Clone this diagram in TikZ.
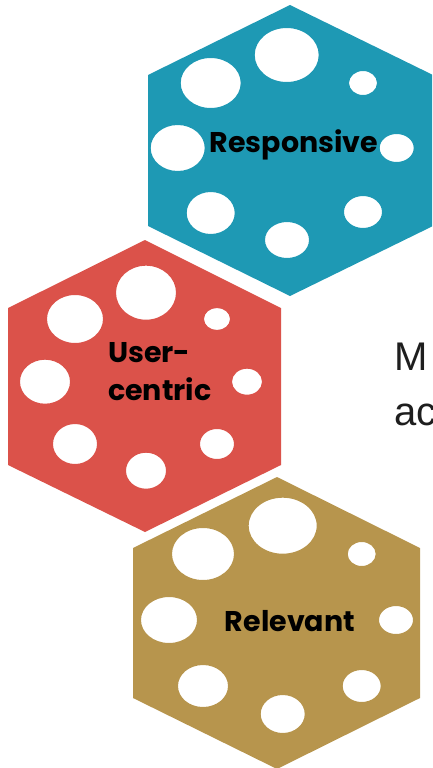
\documentclass[tikz,border=0pt]{standalone}
\usepackage{fontspec}
\setmainfont{Liberation Sans}
\newfontfamily\labelfont{Poppins}
\definecolor{cellblue}{RGB}{30,153,180}
\definecolor{cellred}{RGB}{219,82,74}
\definecolor{cellgold}{RGB}{183,149,77}
\definecolor{bodygray}{RGB}{30,30,30}
\tikzset{
  cell/.style={even odd rule},
  hexlabel/.style={inner sep=0pt, text=black, font=\labelfont\bfseries\fontsize{28.5}{38}\selectfont},
  bodytext/.style={inner sep=0pt, text=bodygray, font=\fontsize{40}{48}\selectfont},
}
\begin{document}
\begin{tikzpicture}[x=1pt,y=-1pt]
\useasboundingbox (0,0) rectangle (432,768);
\clip (0,0) rectangle (432,768);

% upper cell
\fill[cellblue, cell]
  (290,5) -- (433,75) -- (433,226) -- (290,296) -- (148,226) -- (148,75) -- cycle
  (286.7,55)  ellipse [x radius=32, y radius=27]
  (210.7,83)  ellipse [x radius=30, y radius=25]
  (363,83)    ellipse [x radius=14, y radius=12]
  (177.7,148) ellipse [x radius=27, y radius=23]
  (396.7,148) ellipse [x radius=17, y radius=14]
  (210.7,213) ellipse [x radius=24, y radius=21]
  (287,240)   ellipse [x radius=22, y radius=18]
  (363,212)   ellipse [x radius=19, y radius=16];

% middle cell
\fill[cellred, cell]
  (145,240) -- (281,308) -- (281,465) -- (145,532) -- (8,465) -- (8,308) -- cycle
  (146,292.7) ellipse [x radius=30, y radius=27]
  (75,319)    ellipse [x radius=28, y radius=24]
  (217,319)   ellipse [x radius=13, y radius=11]
  (45,381.7)  ellipse [x radius=25, y radius=22]
  (247,381.7) ellipse [x radius=15, y radius=13]
  (75,444)    ellipse [x radius=22, y radius=20]
  (146,470.7) ellipse [x radius=20, y radius=18]
  (217,444)   ellipse [x radius=17, y radius=15];

% lower cell
\fill[cellgold, cell]
  (277,477) -- (420,548) -- (420,698) -- (277,769) -- (133,698) -- (133,548) -- cycle
  (282.7,525.7) ellipse [x radius=34, y radius=28]
  (203,554)     ellipse [x radius=31, y radius=26]
  (361.7,554)   ellipse [x radius=14, y radius=12]
  (169,620)     ellipse [x radius=28, y radius=23]
  (396,620)     ellipse [x radius=17, y radius=14]
  (203,686)     ellipse [x radius=25, y radius=21]
  (282.7,714)   ellipse [x radius=22, y radius=19]
  (361.7,686)   ellipse [x radius=19, y radius=16];

% cell labels
\node[hexlabel] (resp) at (294,145) {Responsive};
\node[hexlabel, align=left, anchor=base west] (user) at (108,400) {User-\\centric};
\node[hexlabel] (rel) at (290,621) {Relevant};

% body text running off the right edge
\node[bodytext, anchor=base west] (lineone) at (394,370) {M};
\node[bodytext, anchor=base west] (linetwo) at (394,425) {ac};
\end{tikzpicture}
\end{document}
